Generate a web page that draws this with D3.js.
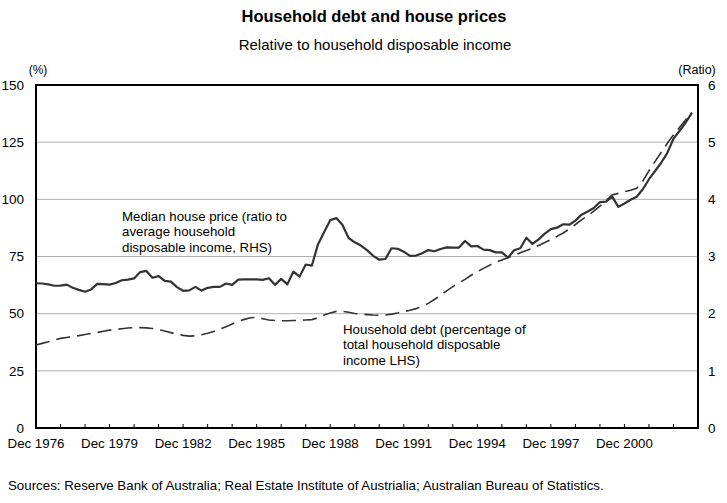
<!DOCTYPE html>
<html><head><meta charset="utf-8">
<script src="https://cdn.jsdelivr.net/npm/d3@7"></script>
<style>body{margin:0;background:#fff}svg{display:block;font-family:"Liberation Sans",Arial,sans-serif}</style>
</head><body><svg id="c" width="727" height="503"></svg>
<script>
// Quarterly data, Dec 1976 .. Sep 2003
const startYear = 1976.917;
const houseRatio = [63.3,63.2,62.8,62.2,62.3,62.7,61.3,60.4,59.6,60.6,63.0,62.9,62.7,63.4,64.6,64.9,65.4,68.2,68.7,65.7,66.4,64.3,64.0,61.6,60.0,60.2,61.7,60.1,61.3,61.7,61.7,63.2,
 62.6,64.9,65.0,65.0,65.0,64.8,65.5,62.6,65.2,62.8,68.4,66.2,71.5,71.0,80.3,85.6,90.9,91.8,88.8,83.1,81.2,79.8,77.8,75.3,73.6,73.9,78.6,78.4,77.1,75.3,75.4,76.4,
 77.8,77.3,78.3,79.0,78.9,78.9,81.8,79.4,79.6,78.0,77.8,76.8,76.8,74.5,77.7,78.6,83.2,80.5,82.5,85.0,87.0,87.6,89.1,88.9,90.7,93.3,
 94.7,96.2,98.8,99.0,101.2,96.7,98.2,99.8,101.1,104.4,108.8,112.4,116.0,120.3,126.5,130.0,133.6,137.8].map(v => v / 25);
const householdDebt = [36.3,37.0,37.7,38.5,39.2,39.6,40.0,40.4,40.9,41.4,41.8,42.3,42.8,43.1,43.4,43.7,43.9,43.9,43.8,43.5,43.0,42.4,41.7,41.0,40.5,40.2,40.3,40.8,41.4,42.2,43.2,44.3,
 45.5,46.6,47.5,48.2,48.4,47.8,47.2,47.0,46.9,46.9,47.0,47.1,47.2,47.4,48.2,49.4,50.3,51.0,51.0,50.6,50.1,49.8,49.6,49.4,49.3,49.4,49.8,50.3,50.9,51.5,52.2,53.3,
 54.5,56.2,58.0,60.0,61.8,63.5,65.0,66.8,68.4,69.8,71.2,72.5,73.5,74.5,75.5,76.6,77.6,78.6,79.8,81.1,82.4,83.8,85.3,87.0,89.0,91.0,
 92.9,94.8,97.0,99.5,101.9,102.6,103.3,104.0,104.8,108.0,112.5,116.6,120.6,124.5,128.2,131.5,134.8,138.0];
const leftTicks = [0,25,50,75,100,125,150];
const rightTicks = [0,1,2,3,4,5,6];
const xLabelYears = [1976,1979,1982,1985,1988,1991,1994,1997,2000];
const xTickYears = d3.range(1976, 2004);

const svg = d3.select("#c");
const L = 36, R = 698, T = 85, B = 428;
const x = d3.scaleLinear().domain([1976.917, 2003.917]).range([L, R]);
const yL = d3.scaleLinear().domain([0,150]).range([B, T]);
const yR = d3.scaleLinear().domain([0,6]).range([B, T]);
const tq = i => startYear + i * 0.25;

// titles
svg.append("text").attr("x",374).attr("y",22).attr("text-anchor","middle").attr("font-weight","bold").attr("font-size",16.5).text("Household debt and house prices");
svg.append("text").attr("x",375).attr("y",50).attr("text-anchor","middle").attr("font-size",15).text("Relative to household disposable income");
svg.append("text").attr("x",38).attr("y",74).attr("text-anchor","middle").attr("font-size",12).text("(%)");
svg.append("text").attr("x",697).attr("y",74).attr("text-anchor","middle").attr("font-size",12.5).text("(Ratio)");

// gridlines
svg.append("g").selectAll("line").data(leftTicks.filter(d=>d>0&&d<150)).join("line")
 .attr("x1",L).attr("x2",R).attr("y1",d=>yL(d)).attr("y2",d=>yL(d)).attr("stroke","#b0b0b0").attr("stroke-width",1);

// axis labels
const gl = svg.append("g").attr("transform",`translate(${L},0)`).call(d3.axisLeft(yL).tickValues(leftTicks).tickSize(0).tickPadding(12));
gl.select(".domain").remove();
gl.selectAll("text").attr("font-size",13.5).attr("font-family","Liberation Sans, Arial, sans-serif").attr("fill","#000");
const gr = svg.append("g").attr("transform",`translate(${R},0)`).call(d3.axisRight(yR).tickValues(rightTicks).tickFormat(d3.format("d")).tickSize(0).tickPadding(10));
gr.select(".domain").remove();
gr.selectAll("text").attr("font-size",13.5).attr("font-family","Liberation Sans, Arial, sans-serif").attr("fill","#000");

// x axis ticks (inward) and labels
svg.append("g").selectAll("line").data(xTickYears.map(y=>y+0.917)).join("line")
 .attr("x1",d=>x(d)).attr("x2",d=>x(d)).attr("y1",B).attr("y2",B-4).attr("stroke","#000").attr("stroke-width",1);
svg.append("g").selectAll("text").data(xLabelYears).join("text")
 .attr("x",d=>x(d+0.917)).attr("y",448).attr("text-anchor","middle").attr("font-size",13.3).text(d=>"Dec "+d);

// frame
svg.append("rect").attr("x",L).attr("y",T).attr("width",R-L).attr("height",B-T).attr("fill","none").attr("stroke","#000").attr("stroke-width",2);

// lines
const lineDebt = d3.line().x((d,i)=>x(tq(i))).y(d=>yL(d));
const lineHouse = d3.line().x((d,i)=>x(tq(i))).y(d=>yR(d));
svg.append("path").datum(householdDebt).attr("d",lineDebt).attr("fill","none").attr("stroke","#333").attr("stroke-width",1.6).attr("stroke-dasharray","14,7");
svg.append("path").datum(houseRatio).attr("d",lineHouse).attr("fill","none").attr("stroke","#333").attr("stroke-width",2.2).attr("stroke-linejoin","round");

// annotations
const a1 = ["Median house price (ratio to","average household","disposable income, RHS)"];
svg.append("g").selectAll("text").data(a1).join("text").attr("x",122).attr("y",(d,i)=>220.5+i*15.5).attr("font-size",13.3).text(d=>d);
const a2 = ["Household debt (percentage of","total household disposable","income LHS)"];
svg.append("g").selectAll("text").data(a2).join("text").attr("x",343).attr("y",(d,i)=>333.5+i*15.5).attr("font-size",13.3).text(d=>d);

svg.append("text").attr("x",8).attr("y",490).attr("font-size",13.3).text("Sources: Reserve Bank of Australia; Real Estate Institute of Austrialia; Australian Bureau of Statistics.");
</script></body></html>
